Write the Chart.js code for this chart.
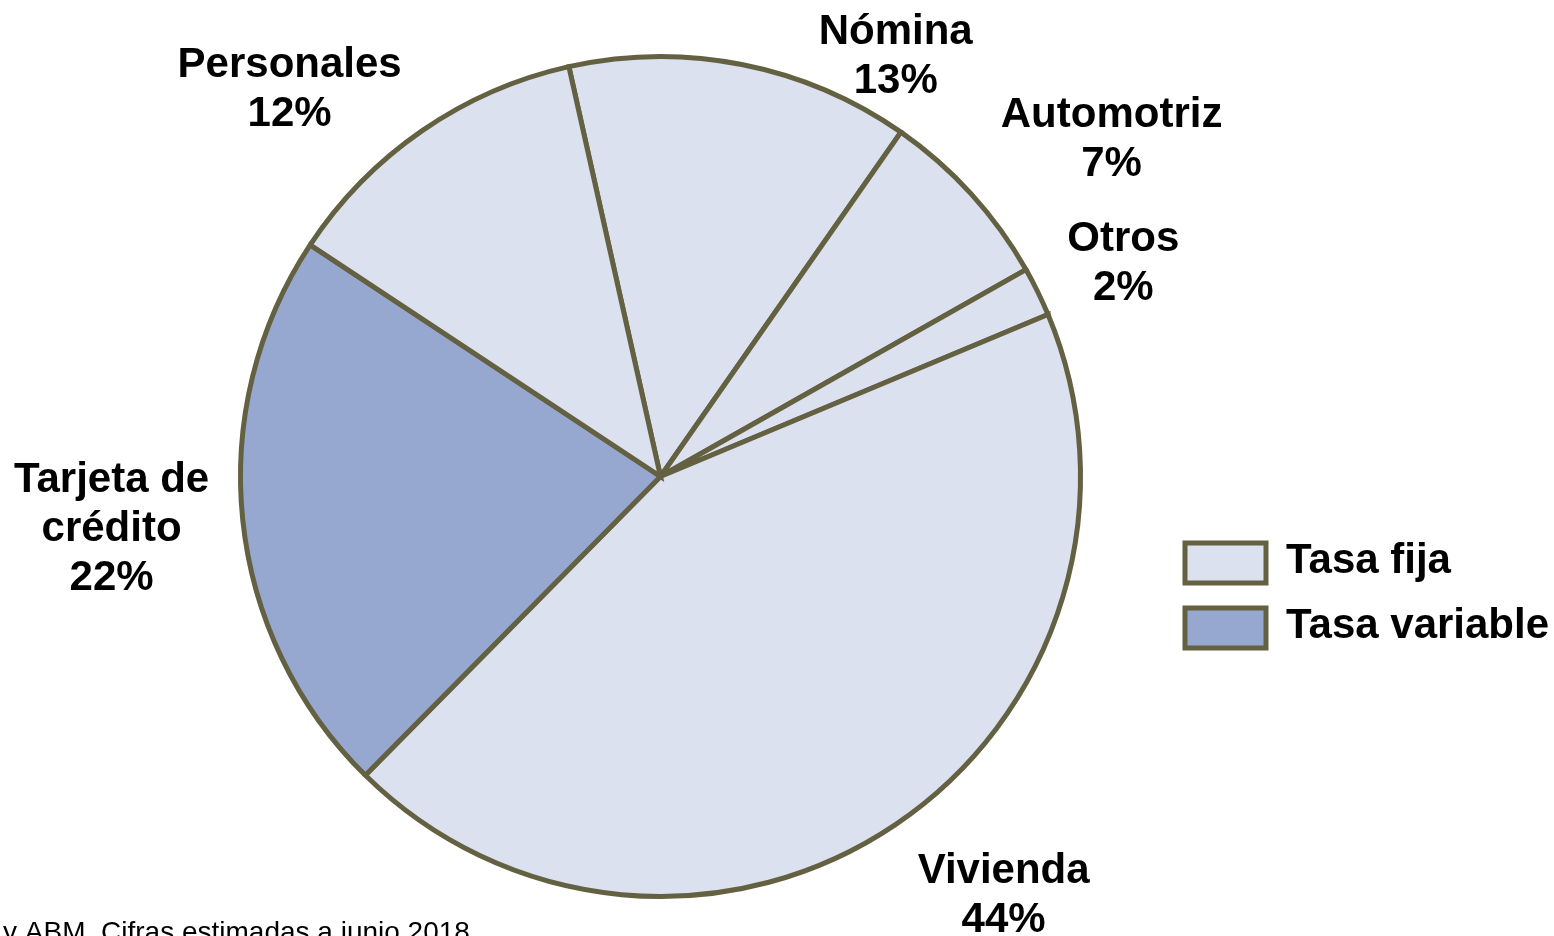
<!DOCTYPE html>
<html lang="es">
<head>
<meta charset="utf-8">
<title>Cartera de crédito al consumo por tipo de tasa</title>
<script src="https://cdn.jsdelivr.net/npm/chart.js@4.4.1/dist/chart.umd.min.js"></script>
<style>
  html, body { margin: 0; padding: 0; background: #fff; }
  #wrap { position: relative; width: 1554px; height: 936px; overflow: hidden; }
</style>
</head>
<body>
<div id="wrap"><canvas id="grafica" width="1554" height="936"></canvas></div>
<script>
// Datos (en orden horario, empezando por Nómina)
const categorias = ["Nómina", "Automotriz", "Otros", "Vivienda", "Tarjeta de crédito", "Personales"];
const valores = [13.2, 7.1, 1.9, 43.7, 21.9, 12.2];
const porcentajes = ["13%", "7%", "2%", "44%", "22%", "12%"];
const tipoTasa = ["fija", "fija", "fija", "fija", "variable", "fija"];
const leyenda = ["Tasa fija", "Tasa variable"];
const nota = "y ABM. Cifras estimadas a junio 2018.";

/* =======================================
   ESTILOS
======================================= */
const COLOR_FIJA = "#dce1ef";
const COLOR_VARIABLE = "#97a8d0";
const COLOR_BORDE = "#646142";
const FUENTE = "'Liberation Sans', Arial, sans-serif";

// Líneas de cada etiqueta (Tarjeta de crédito va en dos renglones)
const lineasEtiqueta = [
  ["Nómina"], ["Automotriz"], ["Otros"], ["Vivienda"], ["Tarjeta de", "crédito"], ["Personales"]
];
// Posición de cada etiqueta relativa al centro, en unidades del radio
const posEtiqueta = [
  { dx: 0.560, dy: -1.029 },
  { dx: 1.074, dy: -0.831 },
  { dx: 1.102, dy: -0.536 },
  { dx: 0.817, dy: 0.967 },
  { dx: -1.307, dy: 0.038 },
  { dx: -0.883, dy: -0.952 }
];

function colorDe(tipo) {
  return tipo === "variable" ? COLOR_VARIABLE : COLOR_FIJA;
}

// Plugin para etiquetas, leyenda y nota al pie
const etiquetasPlugin = {
  id: "etiquetas",
  afterDraw(chart) {
    const ctx = chart.ctx;
    const arc = chart.getDatasetMeta(0).data[0];
    const cx = arc.x, cy = arc.y, r = arc.outerRadius;
    ctx.save();
    ctx.fillStyle = "#000";
    ctx.textAlign = "center";
    ctx.textBaseline = "alphabetic";
    ctx.font = "bold 42px " + FUENTE;
    const alto = 49;
    lineasEtiqueta.forEach((lineas, i) => {
      const x = cx + posEtiqueta[i].dx * r;
      let y = cy + posEtiqueta[i].dy * r;
      lineas.concat([porcentajes[i]]).forEach((txt) => {
        ctx.fillText(txt, x, y);
        y += alto;
      });
    });

    // Leyenda
    const colores = [COLOR_FIJA, COLOR_VARIABLE];
    ctx.textAlign = "left";
    leyenda.forEach((txt, i) => {
      const y = 543 + i * 65;
      ctx.fillStyle = colores[i];
      ctx.fillRect(1185, y, 81, 40);
      ctx.strokeStyle = COLOR_BORDE;
      ctx.lineWidth = 5;
      ctx.strokeRect(1185, y, 81, 40);
      ctx.fillStyle = "#000";
      ctx.fillText(txt, 1286, y + 30);
    });

    // Nota al pie (cortada en el borde inferior)
    ctx.font = "28px " + FUENTE;
    ctx.fillText(nota, 3, 941);
    ctx.restore();
  }
};

new Chart(document.getElementById("grafica"), {
  type: "pie",
  data: {
    labels: categorias,
    datasets: [{
      data: valores,
      backgroundColor: tipoTasa.map(colorDe),
      borderColor: COLOR_BORDE,
      borderWidth: 5,
      borderJoinStyle: "miter"
    }]
  },
  options: {
    responsive: false,
    animation: false,
    rotation: -12.6,
    layout: {
      padding: { left: 238, right: 471, top: 54, bottom: 37 }
    },
    plugins: {
      legend: { display: false },
      tooltip: { enabled: false }
    }
  },
  plugins: [etiquetasPlugin]
});
</script>
</body>
</html>
